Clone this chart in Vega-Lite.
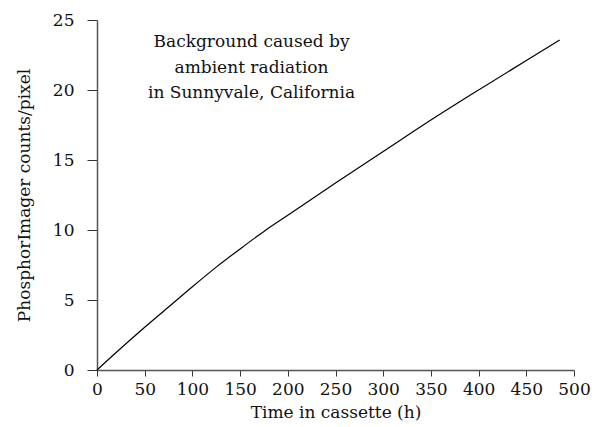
{
  "$schema": "https://vega.github.io/schema/vega-lite/v6.json",
  "autosize": {"type": "none"},
  "width": 477,
  "height": 350,
  "padding": {"left": 97, "top": 20, "right": 20, "bottom": 57},
  "background": "white",
  "config": {
    "view": {"stroke": null},
    "font": "DejaVu Serif",
    "axis": {
      "labelFont": "DejaVu Serif",
      "titleFont": "DejaVu Serif",
      "labelFontSize": 17,
      "titleFontSize": 17,
      "titleFontWeight": "normal",
      "labelColor": "#111",
      "titleColor": "#111",
      "grid": false,
      "domainColor": "#555",
      "domainWidth": 1.5,
      "tickColor": "#333",
      "labelFlush": false,
      "labelOverlap": false
    }
  },
  "data": {
    "values": [
      {"t": 0, "c": 0},
      {"t": 25, "c": 1.55},
      {"t": 50, "c": 3.05},
      {"t": 75, "c": 4.5},
      {"t": 100, "c": 5.95},
      {"t": 125, "c": 7.35},
      {"t": 150, "c": 8.65},
      {"t": 175, "c": 9.9},
      {"t": 200, "c": 11.05},
      {"t": 250, "c": 13.35},
      {"t": 300, "c": 15.6},
      {"t": 350, "c": 17.85},
      {"t": 400, "c": 20.0},
      {"t": 450, "c": 22.1},
      {"t": 485, "c": 23.57}
    ]
  },
  "layer": [
    {
      "mark": {"type": "line", "color": "black", "strokeWidth": 1.2, "interpolate": "monotone"},
      "encoding": {
        "x": {
          "field": "t", "type": "quantitative",
          "scale": {"domain": [0, 500], "nice": false},
          "axis": {"values": [0,50,100,150,200,250,300,350,400,450,500], "tickSize": 6, "labelPadding": 5, "title": "Time in cassette (h)", "titlePadding": 7}
        },
        "y": {
          "field": "c", "type": "quantitative",
          "scale": {"domain": [0, 25], "nice": false},
          "axis": {"values": [0,5,10,15,20,25], "tickSize": 10, "labelPadding": 13, "title": "PhosphorImager counts/pixel", "titlePadding": 19}
        }
      }
    },
    {
      "data": {"values": [{"t": 162, "c": 23.42, "txt": ["Background caused by", "ambient radiation", "in Sunnyvale, California"]}]},
      "mark": {"type": "text", "align": "center", "baseline": "middle", "fontSize": 17, "lineHeight": 25.5, "font": "DejaVu Serif", "color": "#111"},
      "encoding": {
        "x": {"field": "t", "type": "quantitative"},
        "y": {"field": "c", "type": "quantitative"},
        "text": {"field": "txt"}
      }
    }
  ]
}
